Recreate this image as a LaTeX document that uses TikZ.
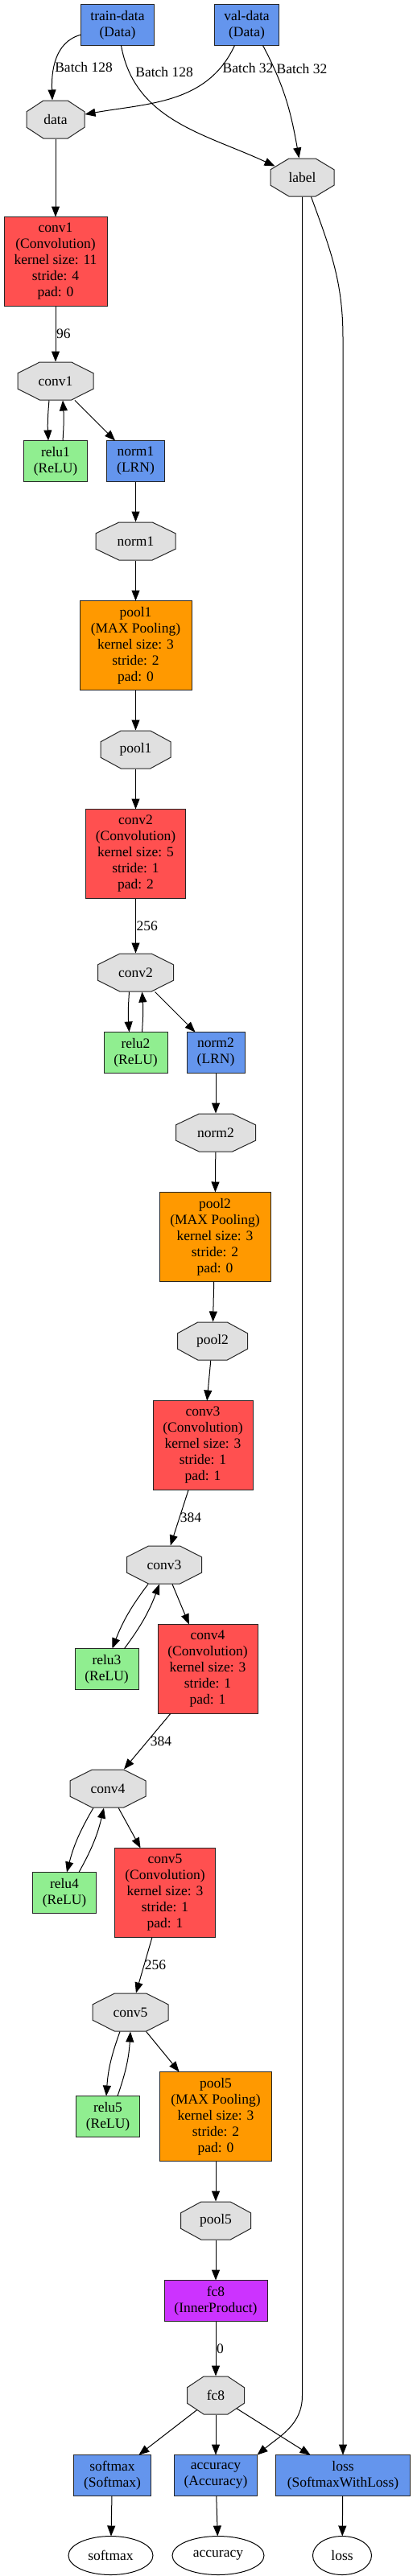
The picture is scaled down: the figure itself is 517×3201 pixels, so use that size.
\documentclass[tikz,border=0pt]{standalone}
\usepackage{fontspec}
\setmainfont{Liberation Serif}
\usepackage{tikz}
\usepackage{xcolor}
\usetikzlibrary{arrows.meta,shapes,positioning}

\definecolor{datablue}{HTML}{6495ED}
\definecolor{convred}{HTML}{FF5050}
\definecolor{poolorange}{HTML}{FF9900}
\definecolor{relugreen}{HTML}{90EE90}
\definecolor{ipmagenta}{HTML}{CC33FF}
\definecolor{blobgray}{HTML}{E0E0E0}

\begin{document}
\begin{tikzpicture}[x=1pt, y=1pt, node distance=50pt, line width=1pt,
    >={Triangle[length=13pt,width=10pt]},
    every node/.style={font=\fontsize{17.5pt}{20pt}\selectfont, outer sep=0pt},
    layer/.style 2 args={draw=black!85, fill=#1, minimum width=#2pt, minimum height=51pt, align=center, inner sep=2pt},
    tall/.style={minimum height=111pt},
    blob/.style={minimum width=#1pt, minimum height=48pt, inner sep=0pt,
        path picture={\draw[fill=blobgray, draw=black!85] (path picture bounding box.center)
            +({-0.207*#1},23.5) -- +({0.207*#1},23.5) -- +({0.5*#1-0.5},9.7) -- +({0.5*#1-0.5},-9.7)
            -- +({0.207*#1},-23.5) -- +({-0.207*#1},-23.5) -- +({-0.5*#1+0.5},-9.7) -- +({-0.5*#1+0.5},9.7) -- cycle;}},
    output/.style={draw=black, ellipse, minimum width=#1pt, minimum height=48pt, inner sep=0pt},
    elabel/.style={anchor=west, inner sep=1pt}]
    \useasboundingbox (0,0) rectangle (517,-3201);

    % Data layers
    \node[layer={datablue}{91}] (traindata) at (146,-31) {train-data\\(Data)};
    \node[layer={datablue}{80}, right=75pt of traindata] (valdata) {val-data\\(Data)};
    \node[blob=73, below=68pt of traindata, xshift=-77pt] (data) {data};
    \node[blob=80, below=140pt of valdata, xshift=69pt] (label) {label};

    % conv1 / norm1 / pool1
    \node[layer={convred}{128}, tall, below=97pt of data] (conv1) {conv1\\(Convolution)\\kernel size: 11\\stride: 4\\pad: 0};
    \node[blob=95, below=69pt of conv1] (conv1b) {conv1};
    \node[layer={relugreen}{79}, below=of conv1b] (relu1) {relu1\\(ReLU)};
    \node[layer={datablue}{72}, right=24pt of relu1] (norm1) {norm1\\(LRN)};
    \node[blob=100, below=of norm1] (norm1b) {norm1};
    \node[layer={poolorange}{139}, tall, below=of norm1b] (pool1) {pool1\\(MAX Pooling)\\kernel size: 3\\stride: 2\\pad: 0};
    \node[blob=88, below=of pool1] (pool1b) {pool1};

    % conv2 / norm2 / pool2
    \node[layer={convred}{124}, tall, below=of pool1b] (conv2) {conv2\\(Convolution)\\kernel size: 5\\stride: 1\\pad: 2};
    \node[blob=95, below=68pt of conv2] (conv2b) {conv2};
    \node[layer={relugreen}{79}, below=of conv2b] (relu2) {relu2\\(ReLU)};
    \node[layer={datablue}{72}, right=24pt of relu2] (norm2) {norm2\\(LRN)};
    \node[blob=100, below=of norm2] (norm2b) {norm2};
    \node[layer={poolorange}{138}, tall, below=of norm2b, xshift=-1pt] (pool2) {pool2\\(MAX Pooling)\\kernel size: 3\\stride: 2\\pad: 0};
    \node[blob=88, below=of pool2, xshift=-3pt] (pool2b) {pool2};

    % conv3 - conv5 / pool5
    \node[layer={convred}{124}, tall, below=of pool2b, xshift=-12pt] (conv3) {conv3\\(Convolution)\\kernel size: 3\\stride: 1\\pad: 1};
    \node[blob=94, below=69pt of conv3, xshift=-48pt] (conv3b) {conv3};
    \node[layer={convred}{124}, tall, below=of conv3b, xshift=54pt] (conv4) {conv4\\(Convolution)\\kernel size: 3\\stride: 1\\pad: 1};
    \node[layer={relugreen}{79}, left=24pt of conv4] (relu3) {relu3\\(ReLU)};
    \node[blob=95, below=69pt of conv4, xshift=-124pt] (conv4b) {conv4};
    \node[layer={convred}{125}, tall, below=of conv4b, xshift=71pt] (conv5) {conv5\\(Convolution)\\kernel size: 3\\stride: 1\\pad: 1};
    \node[layer={relugreen}{79}, left=23pt of conv5] (relu4) {relu4\\(ReLU)};
    \node[blob=95, below=69pt of conv5, xshift=-43pt] (conv5b) {conv5};
    \node[layer={poolorange}{139}, tall, below=of conv5b, xshift=106pt] (pool5) {pool5\\(MAX Pooling)\\kernel size: 3\\stride: 2\\pad: 0};
    \node[layer={relugreen}{79}, left=25pt of pool5] (relu5) {relu5\\(ReLU)};
    \node[blob=88, below=of pool5] (pool5b) {pool5};

    % Classifier and outputs
    \node[layer={ipmagenta}{128}, below=of pool5b] (fc8) {fc8\\(InnerProduct)};
    \node[blob=72, below=68pt of fc8] (fc8b) {fc8};
    \node[layer={datablue}{103}, below=of fc8b] (accuracy) {accuracy\\(Accuracy)};
    \node[layer={datablue}{96}, left=29pt of accuracy] (softmax) {softmax\\(Softmax)};
    \node[layer={datablue}{167}, right=23pt of accuracy] (loss) {loss\\(SoftmaxWithLoss)};
    \node[output=105, below=of softmax, xshift=-2pt] (softmaxout) {softmax};
    \node[output=114, below=of accuracy, xshift=3pt] (accuracyout) {accuracy};
    \node[output=73, below=of loss, xshift=-1pt] (lossout) {loss};

    % Data edges
    \draw[->] (traindata) to[out=195, in=92] node[elabel, pos=0.6] {Batch 128} ([xshift=-4pt]data.north);
    \draw[->] (traindata) to[out=-80, in=155] node[elabel, pos=0.13, xshift=7pt] {Batch 128} ([shift={(-34,14)}]label.center);
    \draw[->] ([xshift=-15pt]valdata.south) to[out=-115, in=10] node[elabel, pos=0.15, xshift=2pt] {Batch 32} (data);
    \draw[->] ([xshift=20pt]valdata.south) to[out=-62, in=100] node[elabel, pos=0.2, xshift=2pt] {Batch 32} ([xshift=-4pt]label.north);

    % Feature edges
    \draw[->] (data) -- (conv1);
    \draw[->] (conv1) -- node[elabel] {96} (conv1b);
    \draw[->] ([xshift=-8pt]conv1b.south) to[bend right=4] ([xshift=-9pt]relu1.north);
    \draw[->] ([xshift=9pt]relu1.north) to[bend right=4] ([xshift=9pt]conv1b.south);
    \draw[->] (conv1b) -- (norm1);
    \draw[->] (norm1) -- (norm1b);
    \draw[->] (norm1b) -- (pool1);
    \draw[->] (pool1) -- (pool1b);
    \draw[->] (pool1b) -- (conv2);
    \draw[->] (conv2) -- node[elabel] {256} (conv2b);
    \draw[->] ([xshift=-8pt]conv2b.south) to[bend right=4] ([xshift=-8pt]relu2.north);
    \draw[->] ([xshift=8pt]relu2.north) to[bend right=4] ([xshift=8pt]conv2b.south);
    \draw[->] (conv2b) -- (norm2);
    \draw[->] (norm2) -- (norm2b);
    \draw[->] (norm2b) -- (pool2);
    \draw[->] (pool2) -- (pool2b);
    \draw[->] (pool2b) -- (conv3);
    \draw[->] (conv3) -- node[elabel] {384} (conv3b);
    \draw[->] ([xshift=-20pt]conv3b.south) to[bend right=8] ([xshift=7pt]relu3.north);
    \draw[->] ([xshift=22pt]relu3.north) to[bend right=8] ([xshift=-6pt]conv3b.south);
    \draw[->] (conv3b) -- (conv4);
    \draw[->] (conv4) -- node[elabel, xshift=3pt] {384} (conv4b);
    \draw[->] ([xshift=-18pt]conv4b.south) to[bend right=8] ([xshift=3pt]relu4.north);
    \draw[->] ([xshift=18pt]relu4.north) to[bend right=8] ([xshift=-5pt]conv4b.south);
    \draw[->] (conv4b) -- (conv5);
    \draw[->] (conv5) -- node[elabel] {256} (conv5b);
    \draw[->] ([xshift=-13pt]conv5b.south) to[bend right=8] ([xshift=-2pt]relu5.north);
    \draw[->] ([xshift=12pt]relu5.north) to[bend right=8] (conv5b.south);
    \draw[->] (conv5b) -- (pool5);
    \draw[->] (pool5) -- (pool5b);
    \draw[->] (pool5b) -- (fc8);
    \draw[->] (fc8) -- node[elabel] {0} (fc8b);

    % Outputs
    \draw[->, shorten <=-10pt] (fc8b) -- (softmax);
    \draw[->] (fc8b) -- (accuracy);
    \draw[->, shorten <=-12pt] (fc8b) -- (loss);
    \coordinate (accbend) at (label.south |- 0,-2977);
    \coordinate (lossbend) at (loss.north |- 0,-420);
    \draw[->] (label) -- (accbend) to[out=-90, in=40] (accuracy.north east);
    \draw[->] ([xshift=11pt]label.south) to[out=-70, in=90] (lossbend) -- (loss);
    \draw[->] (softmax) -- (softmaxout);
    \draw[->] (accuracy) -- (accuracyout);
    \draw[->] (loss) -- (lossout);
\end{tikzpicture}
\end{document}
